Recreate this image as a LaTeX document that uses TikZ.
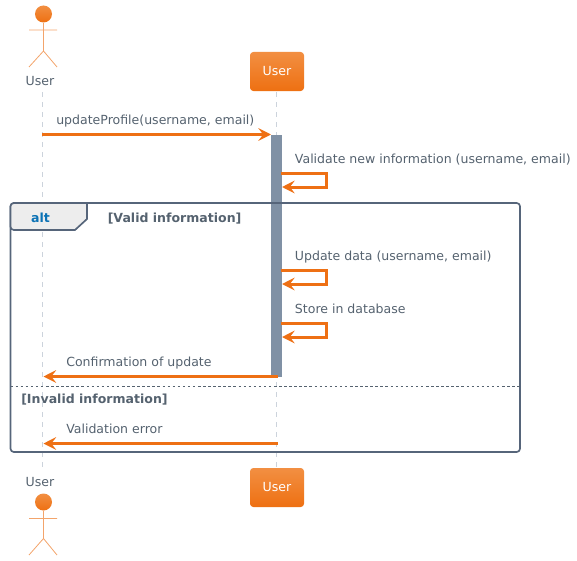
\documentclass[tikz,border=0pt]{standalone}
\usepackage{fontspec}
\setmainfont{DejaVu Sans}
\usetikzlibrary{arrows.meta}
\definecolor{ora}{HTML}{EE7014}
\definecolor{orl}{HTML}{F3A46B}
\definecolor{oratop}{HTML}{F28F42}
\definecolor{orabot}{HTML}{EE7012}
\definecolor{slate}{HTML}{55626F}
\definecolor{bar}{HTML}{8091A5}
\definecolor{life}{HTML}{CCD3DC}
\definecolor{frameline}{HTML}{56657A}
\definecolor{altblue}{HTML}{0B72B5}
\tikzset{
  x=0.75pt,y=-0.75pt,
  lbl/.style={font=\fontsize{9.4}{12}\selectfont,text=slate,inner sep=0pt,anchor=base west},
  blbl/.style={lbl,font=\fontsize{9.4}{12}\selectfont\bfseries},
  msg/.style={draw=ora,line width=2.25pt,-{Stealth[length=9.5pt,width=9.5pt,inset=3.6pt]}},
  loopmsg/.style={msg,rounded corners=0pt},
  lifeline/.style={draw=life,line width=0.75pt,dash pattern=on 3.75pt off 3.75pt},
  pbox/.style={rounded corners=2.5pt,top color=oratop,bottom color=orabot,draw=none,minimum width=40.5pt,minimum height=29.25pt,inner sep=0pt,text=white,font=\fontsize{9.4}{12}\selectfont},
  limb/.style={draw=orl,line width=0.6pt},
  headc/.style={circle,minimum size=12.75pt,inner sep=0pt,top color=oratop,bottom color=orabot,draw=none},
  fr/.style={draw=frameline,line width=1.25pt},
}
\begin{document}
\begin{tikzpicture}
\useasboundingbox (0,0) rectangle (577,560);
% lifeline anchors
\coordinate (ltop) at (42.5,92);
\coordinate (lbot) at (42.5,470);
\coordinate (rtop) at (276.5,92);
\coordinate (rbot) at (276.5,469);
\draw[lifeline] (ltop) -- (lbot);
\draw[lifeline] (rtop) -- (rbot);
% participants
\node[pbox] (boxtop) at (277,71.5) {User};
\node[pbox] (boxbot) at (277,487.5) {User};
% actors
\node[headc] (headtop) at (43.5,14) {};
\draw[limb] (headtop.south) -- (43.5,51) -- (29,67) (43.5,51) -- (57,67) (29,30) -- (57,30);
\node[lbl,anchor=base] (ulabtop) at (40,85) {User};
\node[headc] (headbot) at (43.5,502) {};
\draw[limb] (headbot.south) -- (43.5,538.5) -- (29,555) (43.5,538.5) -- (57,555) (29,518.5) -- (57,518.5);
\node[lbl,anchor=base] (ulabbot) at (40,486) {User};
% activation
\fill[bar] (271,134.5) rectangle (282,376.5);
\coordinate (barN) at (271,134.5);
\coordinate (leftA) at (42,134.5);
% frame
\draw[fr,rounded corners=2.5pt] (10.5,452) -- (10.5,203) -- (520,203) -- (520,452) -- cycle;
\draw[fr,fill=black!7,rounded corners=2.5pt] (10.5,203) -- (10.5,230) [sharp corners] -- (75,230) -- (87,219) -- (87,203) [rounded corners=2.5pt] -- cycle;
\draw[draw=slate,line width=0.75pt,dash pattern=on 1.9pt off 1.9pt] (10.5,386) -- (520,386);
\node[blbl,text=altblue,anchor=base] (alt) at (40.5,222) {alt};
\node[blbl] (g1) at (107.5,222) {[Valid information]};
\node[blbl] (g2) at (21,403) {[Invalid information]};
% messages
\draw[msg] (leftA) -- (barN);
\node[lbl] (m1) at (56,124) {updateProfile(username, email)};
\coordinate (a1) at (281,173); \coordinate (b1) at (326,173); \coordinate (c1) at (326,187); \coordinate (d1) at (282,187);
\draw[loopmsg] (a1) -- (b1) -- (c1) -- (d1);
\node[lbl] (m2) at (294.7,163.5) {Validate new information (username, email)};
\coordinate (a2) at (281,270); \coordinate (b2) at (326,270); \coordinate (c2) at (326,284); \coordinate (d2) at (282,284);
\draw[loopmsg] (a2) -- (b2) -- (c2) -- (d2);
\node[lbl] (m3) at (294.7,260.5) {Update data (username, email)};
\coordinate (a3) at (281,323); \coordinate (b3) at (326,323); \coordinate (c3) at (326,337); \coordinate (d3) at (282,337);
\draw[loopmsg] (a3) -- (b3) -- (c3) -- (d3);
\node[lbl] (m4) at (294.7,313.5) {Store in database};
\coordinate (r1) at (278,376.5); \coordinate (l1) at (43.5,376.5);
\draw[msg] (r1) -- (l1);
\node[lbl] (m5) at (66,366.5) {Confirmation of update};
\coordinate (r2) at (278,443.5); \coordinate (l2) at (43.5,443.5);
\draw[msg] (r2) -- (l2);
\node[lbl] (m6) at (66,433.5) {Validation error};
\end{tikzpicture}
\end{document}
